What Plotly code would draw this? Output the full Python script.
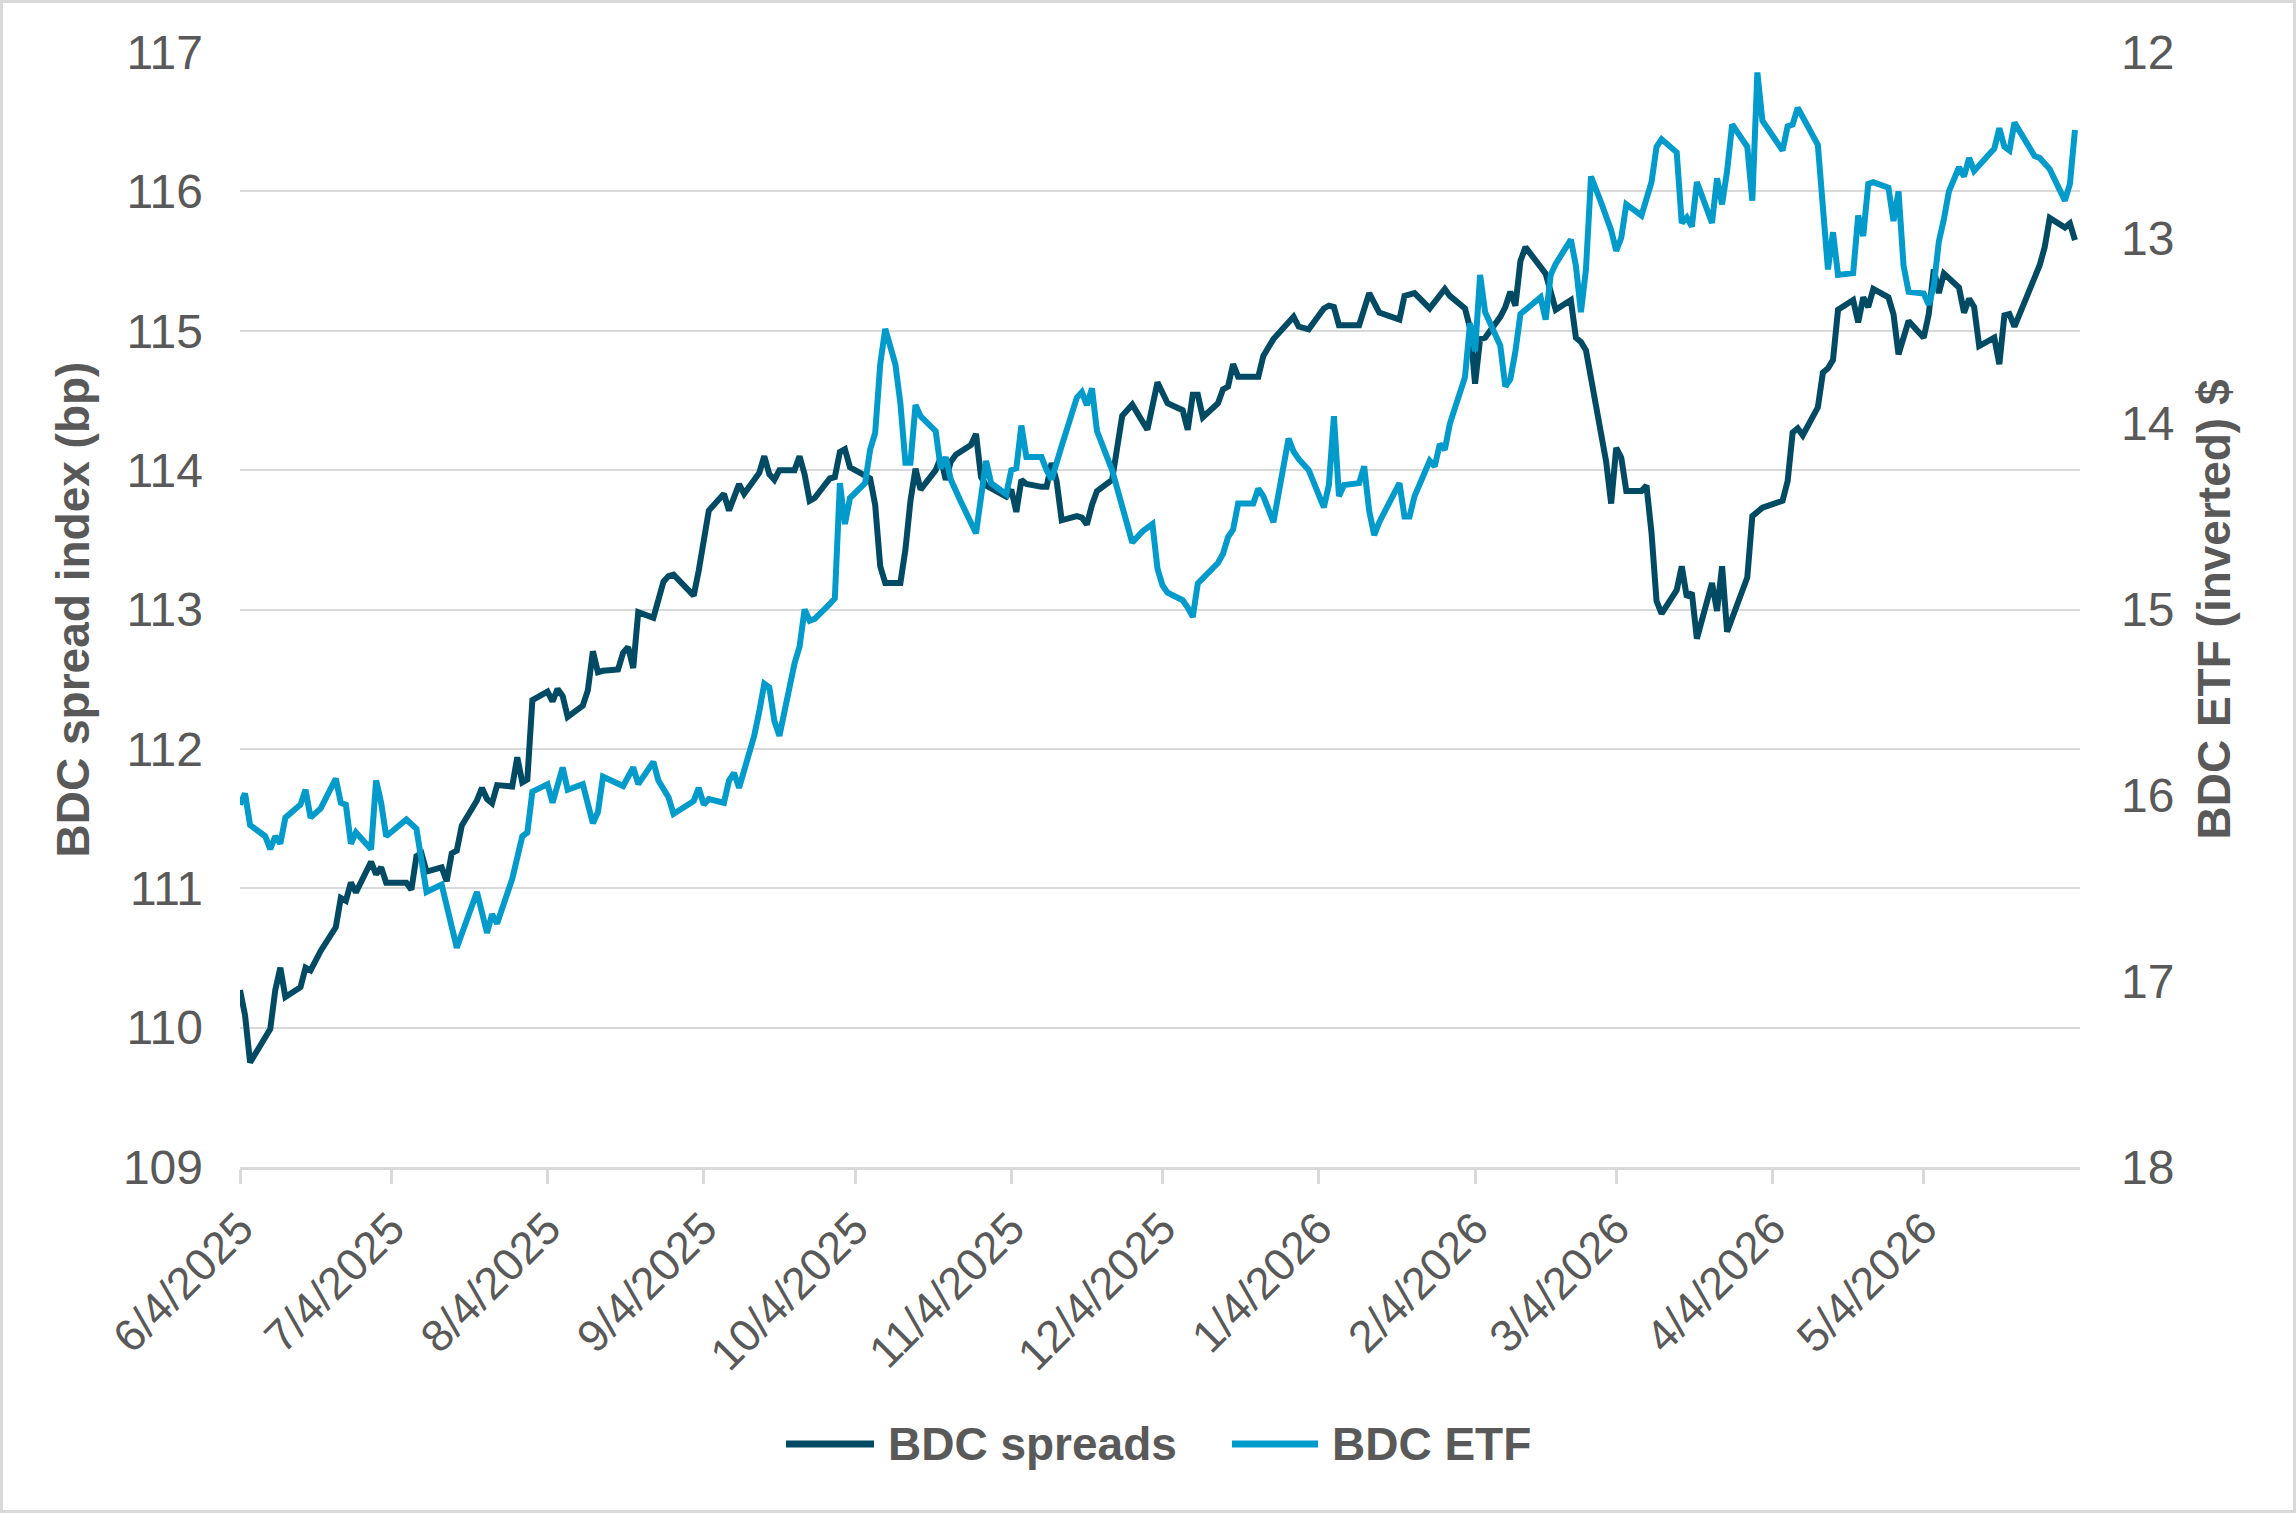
import plotly.graph_objects as go

# ---------------- data ----------------
spread_dates = [
    "2025-06-04", "2025-06-05", "2025-06-06", "2025-06-10", "2025-06-11", "2025-06-12", "2025-06-13",
    "2025-06-16", "2025-06-17", "2025-06-18", "2025-06-20", "2025-06-23", "2025-06-24", "2025-06-25",
    "2025-06-26", "2025-06-27", "2025-06-30", "2025-07-01", "2025-07-02", "2025-07-03", "2025-07-07",
    "2025-07-08", "2025-07-09", "2025-07-10", "2025-07-11", "2025-07-14", "2025-07-15", "2025-07-16",
    "2025-07-17", "2025-07-18", "2025-07-21", "2025-07-22", "2025-07-23", "2025-07-24", "2025-07-25",
    "2025-07-28", "2025-07-29", "2025-07-30", "2025-07-31", "2025-08-01", "2025-08-04", "2025-08-05",
    "2025-08-06", "2025-08-07", "2025-08-08", "2025-08-11", "2025-08-12", "2025-08-13", "2025-08-14",
    "2025-08-15", "2025-08-18", "2025-08-19", "2025-08-20", "2025-08-21", "2025-08-22", "2025-08-25",
    "2025-08-27", "2025-08-28", "2025-08-29", "2025-09-02", "2025-09-03", "2025-09-05", "2025-09-08",
    "2025-09-09", "2025-09-11", "2025-09-12", "2025-09-15", "2025-09-16", "2025-09-17", "2025-09-18",
    "2025-09-19", "2025-09-22", "2025-09-23", "2025-09-24", "2025-09-25", "2025-09-26", "2025-09-29",
    "2025-09-30", "2025-10-01", "2025-10-02", "2025-10-03", "2025-10-07", "2025-10-08", "2025-10-09",
    "2025-10-10", "2025-10-13", "2025-10-14", "2025-10-15", "2025-10-16", "2025-10-17", "2025-10-20",
    "2025-10-21", "2025-10-22", "2025-10-23", "2025-10-24", "2025-10-27", "2025-10-28", "2025-10-29",
    "2025-10-30", "2025-11-03", "2025-11-04", "2025-11-05", "2025-11-06", "2025-11-07", "2025-11-10",
    "2025-11-11", "2025-11-12", "2025-11-13", "2025-11-14", "2025-11-17", "2025-11-18", "2025-11-19",
    "2025-11-20", "2025-11-21", "2025-11-24", "2025-11-25", "2025-11-26", "2025-11-28", "2025-12-01",
    "2025-12-03", "2025-12-05", "2025-12-08", "2025-12-09", "2025-12-10", "2025-12-11", "2025-12-12",
    "2025-12-15", "2025-12-16", "2025-12-17", "2025-12-18", "2025-12-19", "2025-12-23", "2025-12-24",
    "2025-12-26", "2025-12-29", "2025-12-30", "2025-12-31", "2026-01-02", "2026-01-05", "2026-01-06",
    "2026-01-07", "2026-01-08", "2026-01-12", "2026-01-14", "2026-01-16", "2026-01-20", "2026-01-21",
    "2026-01-23", "2026-01-26", "2026-01-29", "2026-01-30", "2026-02-02", "2026-02-03", "2026-02-04",
    "2026-02-05", "2026-02-06", "2026-02-09", "2026-02-10", "2026-02-11", "2026-02-12", "2026-02-13",
    "2026-02-14", "2026-02-18", "2026-02-19", "2026-02-20", "2026-02-23", "2026-02-24", "2026-02-25",
    "2026-02-26", "2026-03-02", "2026-03-03", "2026-03-04", "2026-03-05", "2026-03-06", "2026-03-09",
    "2026-03-10", "2026-03-11", "2026-03-12", "2026-03-13", "2026-03-16", "2026-03-17", "2026-03-18",
    "2026-03-19", "2026-03-20", "2026-03-23", "2026-03-24", "2026-03-25", "2026-03-26", "2026-03-30",
    "2026-03-31", "2026-04-02", "2026-04-06", "2026-04-07", "2026-04-08", "2026-04-09", "2026-04-10",
    "2026-04-13", "2026-04-14", "2026-04-15", "2026-04-16", "2026-04-17", "2026-04-20", "2026-04-21",
    "2026-04-22", "2026-04-23", "2026-04-24", "2026-04-27", "2026-04-28", "2026-04-29", "2026-05-01",
    "2026-05-04", "2026-05-05", "2026-05-06", "2026-05-07", "2026-05-08", "2026-05-11", "2026-05-12",
    "2026-05-13", "2026-05-14", "2026-05-15", "2026-05-18", "2026-05-19", "2026-05-20", "2026-05-21",
    "2026-05-22", "2026-05-27", "2026-05-28", "2026-05-29", "2026-06-01", "2026-06-02", "2026-06-03",
]
spread_values = [
    110.27, 110.09, 109.75, 109.99, 110.27, 110.43, 110.22,
    110.29, 110.43, 110.41, 110.55, 110.72, 110.93, 110.91,
    111.04, 110.97, 111.19, 111.10, 111.15, 111.04, 111.04,
    110.99, 111.23, 111.25, 111.12, 111.15, 111.05, 111.25,
    111.27, 111.45, 111.63, 111.72, 111.64, 111.61, 111.74,
    111.73, 111.94, 111.76, 111.78, 112.35, 112.41, 112.34,
    112.43, 112.38, 112.23, 112.31, 112.42, 112.70, 112.55,
    112.56, 112.57, 112.69, 112.73, 112.58, 112.98, 112.94,
    113.20, 113.24, 113.25, 113.10, 113.28, 113.71, 113.83,
    113.71, 113.90, 113.83, 113.98, 114.10, 113.97, 113.93,
    114.00, 114.00, 114.10, 113.97, 113.78, 113.80, 113.94,
    113.95, 114.13, 114.15, 114.02, 113.94, 113.75, 113.31,
    113.19, 113.19, 113.43, 113.78, 114.01, 113.86, 114.00,
    114.09, 113.93, 114.06, 114.11, 114.18, 114.26, 113.95,
    113.89, 113.81, 113.86, 113.70, 113.93, 113.90, 113.88,
    113.88, 114.05, 113.92, 113.64, 113.67, 113.66, 113.61,
    113.75, 113.85, 113.93, 114.19, 114.39, 114.47, 114.29,
    114.63, 114.48, 114.43, 114.29, 114.54, 114.54, 114.38,
    114.48, 114.58, 114.60, 114.76, 114.67, 114.67, 114.82,
    114.94, 115.05, 115.10, 115.03, 115.01, 115.16, 115.18,
    115.17, 115.04, 115.04, 115.27, 115.13, 115.08, 115.25,
    115.27, 115.16, 115.30, 115.25, 115.16, 115.02, 114.62,
    114.94, 114.95, 115.10, 115.17, 115.28, 115.18, 115.50,
    115.60, 115.41, 115.29, 115.15, 115.22, 114.95, 114.92,
    114.86, 114.06, 113.76, 114.16, 114.09, 113.85, 113.85,
    113.89, 113.55, 113.06, 112.97, 113.14, 113.31, 113.09,
    113.12, 112.79, 113.19, 112.99, 113.31, 112.84, 113.23,
    113.67, 113.73, 113.78, 113.92, 114.27, 114.30, 114.25,
    114.45, 114.70, 114.73, 114.79, 115.15, 115.22, 115.06,
    115.24, 115.17, 115.30, 115.24, 115.12, 114.83, 115.07,
    114.95, 115.12, 115.44, 115.27, 115.41, 115.31, 115.13,
    115.23, 115.17, 114.89, 114.95, 114.76, 115.11, 115.12,
    115.03, 115.47, 115.60, 115.81, 115.74, 115.77, 115.65,
]

etf_dates = [
    "2025-06-04", "2025-06-05", "2025-06-06", "2025-06-09", "2025-06-10", "2025-06-11", "2025-06-12",
    "2025-06-13", "2025-06-16", "2025-06-17", "2025-06-18", "2025-06-20", "2025-06-23", "2025-06-24",
    "2025-06-25", "2025-06-26", "2025-06-27", "2025-06-30", "2025-07-01", "2025-07-02", "2025-07-03",
    "2025-07-07", "2025-07-09", "2025-07-11", "2025-07-14", "2025-07-17", "2025-07-21", "2025-07-22",
    "2025-07-23", "2025-07-24", "2025-07-25", "2025-07-28", "2025-07-30", "2025-07-31", "2025-08-01",
    "2025-08-04", "2025-08-05", "2025-08-07", "2025-08-08", "2025-08-11", "2025-08-12", "2025-08-13",
    "2025-08-14", "2025-08-15", "2025-08-19", "2025-08-21", "2025-08-22", "2025-08-25", "2025-08-26",
    "2025-08-28", "2025-08-29", "2025-09-02", "2025-09-03", "2025-09-04", "2025-09-05", "2025-09-08",
    "2025-09-09", "2025-09-10", "2025-09-11", "2025-09-14", "2025-09-15", "2025-09-16", "2025-09-17",
    "2025-09-18", "2025-09-19", "2025-09-22", "2025-09-23", "2025-09-24", "2025-09-25", "2025-09-26",
    "2025-09-29", "2025-09-30", "2025-10-01", "2025-10-02", "2025-10-03", "2025-10-06", "2025-10-07",
    "2025-10-08", "2025-10-09", "2025-10-10", "2025-10-12", "2025-10-13", "2025-10-14", "2025-10-15",
    "2025-10-16", "2025-10-17", "2025-10-20", "2025-10-21", "2025-10-22", "2025-10-23", "2025-10-25",
    "2025-10-27", "2025-10-28", "2025-10-30", "2025-10-31", "2025-11-03", "2025-11-04", "2025-11-05",
    "2025-11-06", "2025-11-07", "2025-11-10", "2025-11-11", "2025-11-12", "2025-11-14", "2025-11-17",
    "2025-11-18", "2025-11-19", "2025-11-20", "2025-11-21", "2025-11-24", "2025-11-26", "2025-11-27",
    "2025-11-28", "2025-11-30", "2025-12-02", "2025-12-03", "2025-12-04", "2025-12-05", "2025-12-08",
    "2025-12-09", "2025-12-10", "2025-12-11", "2025-12-12", "2025-12-15", "2025-12-16", "2025-12-17",
    "2025-12-18", "2025-12-19", "2025-12-22", "2025-12-23", "2025-12-24", "2025-12-26", "2025-12-29",
    "2025-12-30", "2025-12-31", "2026-01-02", "2026-01-05", "2026-01-06", "2026-01-07", "2026-01-08",
    "2026-01-09", "2026-01-12", "2026-01-13", "2026-01-14", "2026-01-15", "2026-01-16", "2026-01-20",
    "2026-01-21", "2026-01-22", "2026-01-23", "2026-01-26", "2026-01-27", "2026-01-28", "2026-01-29",
    "2026-01-30", "2026-02-02", "2026-02-03", "2026-02-04", "2026-02-05", "2026-02-06", "2026-02-09",
    "2026-02-10", "2026-02-11", "2026-02-12", "2026-02-13", "2026-02-17", "2026-02-18", "2026-02-19",
    "2026-02-20", "2026-02-23", "2026-02-24", "2026-02-25", "2026-02-26", "2026-02-27", "2026-03-01",
    "2026-03-03", "2026-03-04", "2026-03-05", "2026-03-06", "2026-03-09", "2026-03-10", "2026-03-11",
    "2026-03-12", "2026-03-13", "2026-03-16", "2026-03-17", "2026-03-18", "2026-03-19", "2026-03-20",
    "2026-03-23", "2026-03-24", "2026-03-25", "2026-03-26", "2026-03-27", "2026-03-30", "2026-03-31",
    "2026-04-01", "2026-04-02", "2026-04-06", "2026-04-07", "2026-04-08", "2026-04-09", "2026-04-13",
    "2026-04-14", "2026-04-15", "2026-04-16", "2026-04-17", "2026-04-20", "2026-04-21", "2026-04-22",
    "2026-04-23", "2026-04-24", "2026-04-27", "2026-04-28", "2026-04-29", "2026-04-30", "2026-05-01",
    "2026-05-04", "2026-05-05", "2026-05-06", "2026-05-07", "2026-05-08", "2026-05-09", "2026-05-11",
    "2026-05-12", "2026-05-13", "2026-05-14", "2026-05-18", "2026-05-19", "2026-05-20", "2026-05-21",
    "2026-05-22", "2026-05-26", "2026-05-27", "2026-05-29", "2026-06-01", "2026-06-02", "2026-06-03",
]
etf_values = [
    16.05, 15.99, 16.16, 16.22, 16.29, 16.22, 16.26,
    16.12, 16.05, 15.97, 16.12, 16.07, 15.91, 16.04,
    16.05, 16.26, 16.20, 16.29, 15.92, 16.04, 16.22,
    16.13, 16.18, 16.52, 16.48, 16.82, 16.52, 16.62,
    16.74, 16.64, 16.69, 16.45, 16.22, 16.20, 15.98,
    15.94, 16.04, 15.85, 15.97, 15.94, 16.04, 16.15,
    16.09, 15.90, 15.95, 15.85, 15.94, 15.82, 15.92,
    16.01, 16.10, 16.03, 15.96, 16.05, 16.02, 16.04,
    15.92, 15.88, 15.96, 15.68, 15.55, 15.40, 15.42,
    15.60, 15.68, 15.29, 15.20, 15.00, 15.06, 15.05,
    14.97, 14.94, 14.32, 14.54, 14.40, 14.32, 14.14,
    14.05, 13.68, 13.49, 13.68, 13.89, 14.21, 14.21,
    13.90, 13.96, 14.04, 14.24, 14.18, 14.30, 14.42,
    14.54, 14.59, 14.20, 14.32, 14.38, 14.25, 14.24,
    14.01, 14.18, 14.18, 14.25, 14.30, 14.12, 13.86,
    13.83, 13.90, 13.81, 14.04, 14.25, 14.46, 14.55,
    14.64, 14.58, 14.54, 14.78, 14.87, 14.91, 14.95,
    14.99, 15.04, 14.86, 14.83, 14.75, 14.70, 14.61,
    14.57, 14.43, 14.43, 14.35, 14.39, 14.53, 14.08,
    14.15, 14.19, 14.25, 14.45, 14.33, 13.96, 14.39,
    14.33, 14.32, 14.23, 14.47, 14.60, 14.53, 14.32,
    14.50, 14.50, 14.39, 14.20, 14.23, 14.11, 14.14,
    14.00, 13.75, 13.46, 13.61, 13.20, 13.40, 13.58,
    13.80, 13.76, 13.61, 13.41, 13.32, 13.44, 13.20,
    13.14, 13.01, 13.15, 13.40, 13.17, 12.67, 12.81,
    12.96, 13.07, 13.00, 12.82, 12.88, 12.79, 12.70,
    12.51, 12.47, 12.54, 12.92, 12.89, 12.94, 12.70,
    12.92, 12.68, 12.82, 12.64, 12.39, 12.51, 12.80,
    12.11, 12.37, 12.53, 12.40, 12.39, 12.30, 12.50,
    12.86, 13.17, 12.97, 13.20, 13.19, 12.88, 12.99,
    12.71, 12.70, 12.73, 12.91, 12.75, 13.15, 13.29,
    13.30, 13.36, 13.26, 13.02, 12.90, 12.75, 12.62,
    12.67, 12.57, 12.64, 12.52, 12.41, 12.51, 12.53,
    12.38, 12.56, 12.57, 12.63, 12.80, 12.71, 12.42,
]

x_tick_dates = [
    "2025-06-04", "2025-07-04", "2025-08-04", "2025-09-04", "2025-10-04", "2025-11-04",
    "2025-12-04", "2026-01-04", "2026-02-04", "2026-03-04", "2026-04-04", "2026-05-04",
]
x_tick_labels = [
    "6/4/2025", "7/4/2025", "8/4/2025", "9/4/2025", "10/4/2025", "11/4/2025",
    "12/4/2025", "1/4/2026", "2/4/2026", "3/4/2026", "4/4/2026", "5/4/2026",
]
left_ticks = [109, 110, 111, 112, 113, 114, 115, 116, 117]
right_ticks = [12, 13, 14, 15, 16, 17, 18]

series_names = ["BDC spreads", "BDC ETF"]
left_title = "BDC spread index (bp)"
right_title = "BDC ETF (inverted) $"

# ---------------- styling ----------------
W, H = 2296, 1513
ML, MR, MT, MB = 240, 216, 52, 346
PW, PH = W - ML - MR, H - MT - MB

DARK = "#004B63"
LIGHT = "#009ACB"
TEXT = "#595959"
GRID = "#D9D9D9"
FONT = "Liberation Sans, Arial, sans-serif"
COLORS = [DARK, LIGHT]


def px_x(px):
    return (px - ML) / PW


def px_y(py):
    return (H - MB - py) / PH


fig = go.Figure()
fig.add_trace(go.Scatter(
    x=spread_dates, y=spread_values, name=series_names[0], mode="lines",
    line=dict(color=DARK, width=6), yaxis="y", showlegend=False,
))
fig.add_trace(go.Scatter(
    x=etf_dates, y=etf_values, name=series_names[1], mode="lines",
    line=dict(color=LIGHT, width=6), yaxis="y2", showlegend=False,
))

# frame around the whole picture
fig.add_shape(
    type="rect", xref="paper", yref="paper",
    x0=px_x(1.5), x1=px_x(W - 1.5), y0=px_y(H - 1.5), y1=px_y(1.5),
    line=dict(color=GRID, width=3), fillcolor="rgba(0,0,0,0)", layer="below",
)

# legend (long line samples as in the original)
legend_y = 1444
legend_items = [(786, 874, 886), (1232, 1318, 1330)]
for (lx0, lx1, tx), name, col in zip(legend_items, series_names, COLORS):
    fig.add_shape(
        type="line", xref="paper", yref="paper",
        x0=px_x(lx0), x1=px_x(lx1), y0=px_y(legend_y), y1=px_y(legend_y),
        line=dict(color=col, width=7),
    )
    fig.add_annotation(
        xref="paper", yref="paper", x=px_x(tx), y=px_y(legend_y),
        xanchor="left", yanchor="middle", showarrow=False, text=name,
        font=dict(size=46, color=TEXT, family=FONT, weight="bold"),
    )

fig.update_layout(
    width=W, height=H,
    margin=dict(l=ML, r=MR, t=MT, b=MB, autoexpand=False),
    paper_bgcolor="white", plot_bgcolor="white",
    font=dict(family=FONT, color=TEXT, size=46),
    showlegend=False,
    xaxis=dict(
        type="date",
        range=["2025-06-04", "2026-06-04"],
        tickmode="array", tickvals=x_tick_dates, ticktext=x_tick_labels,
        tickangle=-45, ticks="outside", ticklen=14, tickwidth=3, tickcolor=GRID,
        showline=True, linecolor=GRID, linewidth=3,
        showgrid=False, zeroline=False,
        tickfont=dict(size=45, color=TEXT, family=FONT),
    ),
    yaxis=dict(
        range=[109, 117], tickmode="array", tickvals=left_ticks,
        showgrid=True, gridcolor=GRID, gridwidth=2,
        zeroline=False, showline=False, ticks="",
        ticklabelstandoff=36,
        tickfont=dict(size=48, color=TEXT, family=FONT),
        title=dict(text=left_title, standoff=18,
                   font=dict(size=46, color=TEXT, family=FONT, weight="bold")),
    ),
    yaxis2=dict(
        range=[18, 12], tickmode="array", tickvals=right_ticks,
        overlaying="y", side="right",
        showgrid=False, zeroline=False, showline=False, ticks="",
        ticklabelstandoff=40,
        tickfont=dict(size=48, color=TEXT, family=FONT),
        title=dict(text=right_title, standoff=24,
                   font=dict(size=46, color=TEXT, family=FONT, weight="bold")),
    ),
)

fig.write_html("out.html")
